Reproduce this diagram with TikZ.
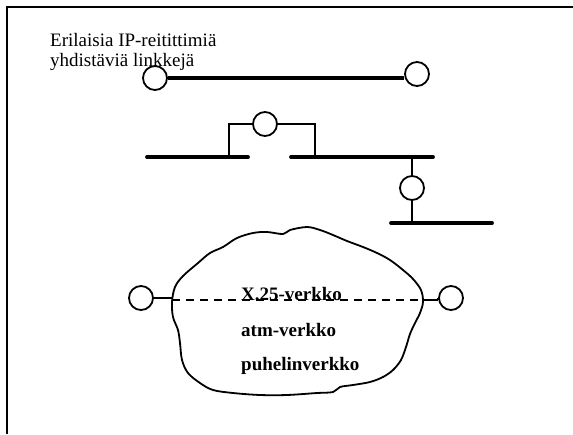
\documentclass[tikz,border=0pt]{standalone}
\usepackage{fontspec}
\setmainfont{Liberation Serif}
\begin{document}
\begin{tikzpicture}[x=1pt,y=-1pt,
  router/.style={draw, circle, line width=1.8pt, minimum size=24pt, inner sep=0pt, fill=white},
  bus/.style={line width=3.8pt},
  wire/.style={line width=1.8pt},
  frame/.style={line width=2pt},
  lbl/.style={anchor=base west, inner sep=0pt, font=\fontsize{19}{20}\selectfont},
  blbl/.style={anchor=base west, inner sep=0pt, font=\fontsize{19}{20}\selectfont\bfseries}]
\useasboundingbox (0,0) rectangle (573,434);
% frame
\coordinate (fa) at (7,434);
\coordinate (fb) at (7,7);
\coordinate (fc) at (573,7);
\draw[frame] (fa) -- (fb) -- (fc);
% caption
\node[lbl] (t1) at (50,46) {Erilaisia IP-reitittimiä};
\node[lbl] (t2) at (50,66) {yhdistäviä linkkejä};
% top link
\node[router] (r1) at (155,78) {};
\node[router] (r2) at (417,74) {};
\draw[bus] (r1.east) -- (r1.east -| r2.west);
% middle networks
\coordinate (b1a) at (147,157);
\coordinate (b1b) at (248,157);
\coordinate (b2a) at (291,157);
\coordinate (b2b) at (433,157);
\draw[bus, line cap=round] (b1a) -- (b1b);
\draw[bus, line cap=round] (b2a) -- (b2b);
\node[router] (r3) at (265,124) {};
\coordinate (k1) at (229,124);
\coordinate (k2) at (229,157);
\coordinate (k3) at (315,124);
\coordinate (k4) at (315,157);
\draw[wire] (r3.west) -- (k1) -- (k2);
\draw[wire] (r3.east) -- (k3) -- (k4);
\node[router] (r4) at (412,188) {};
\coordinate (v1) at (412,157);
\coordinate (v2) at (412,223);
\draw[wire] (v1) -- (r4.north);
\draw[wire] (r4.south) -- (v2);
\coordinate (b3a) at (391,223);
\coordinate (b3b) at (492,223);
\draw[bus, line cap=round] (b3a) -- (b3b);
% cloud
\draw[line width=1.8pt, line join=round] plot[smooth cycle, tension=0.55] coordinates {
 (172,302) (175,287) (183,276) (198,263) (210,253) (223,247) (237,238) (253,233)
 (267,232) (283,234) (290,230) (307,227) (320,230) (333,235) (347,241) (363,247)
 (377,253) (390,260) (403,270) (413,279) (421,290) (423,302) (420,313) (415,323)
 (410,334) (406,347) (401,360) (393,370) (383,377) (370,382) (353,385) (340,387)
 (333,392) (317,393) (287,395) (260,395) (233,393) (213,390) (200,383) (188,373)
 (182,360) (180,343) (178,330) (173,317)};
% link across the cloud
\node[router] (r5) at (141,298) {};
\node[router] (r6) at (451,298) {};
\coordinate (cl) at (172,300);
\coordinate (cr) at (423,300);
\draw[wire] (r5.east) -- (r5.east -| cl);
\draw[wire, dash pattern=on 8pt off 6pt] (cl) -- (cr);
\draw[wire] (cr -| r6.west) -- (r6.west);
\draw[wire] (cr) -- (cr -| r6.west);
% labels
\node[blbl] (n1) at (241,300) {X.25-verkko};
\node[blbl] (n2) at (241,336) {atm-verkko};
\node[blbl] (n3) at (241,370) {puhelinverkko};
\end{tikzpicture}
\end{document}
